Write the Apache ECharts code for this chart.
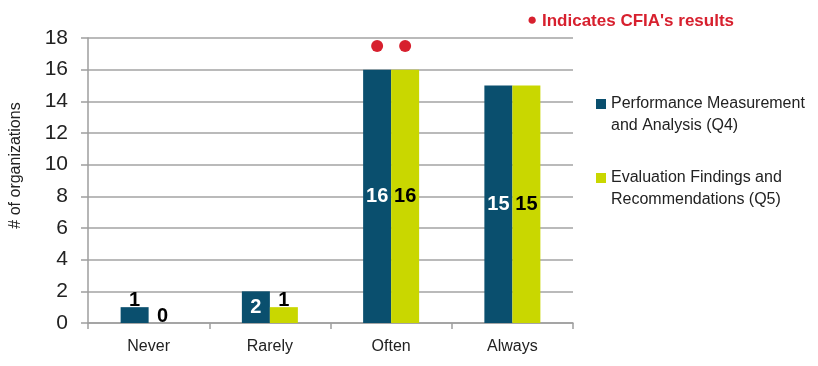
<!DOCTYPE html>
<html>
<head>
<meta charset="utf-8">
<script src="https://cdn.jsdelivr.net/npm/echarts@6/dist/echarts.min.js"></script>
<style>html,body{margin:0;padding:0;background:#fff;}#c{width:818px;height:366px;}</style>
</head>
<body>
<div id="c"></div>
<script>
var categories = ['Never', 'Rarely', 'Often', 'Always'];
var seriesNames = ['Performance Measurement and Analysis (Q4)', 'Evaluation Findings and Recommendations (Q5)'];
var legendLabels = ['Performance Measurement\nand Analysis (Q4)', 'Evaluation Findings and\nRecommendations (Q5)'];
var q4Values = [1, 2, 16, 15];
var q5Values = [0, 1, 16, 15];
var cfiaMarkerQ4 = [null, null, 17.5, null];
var cfiaMarkerQ5 = [null, null, 17.5, null];
var yTicks = {min: 0, max: 18, interval: 2};

var sans = '"Liberation Sans", Arial, sans-serif';
var teal = '#0A4F6E', lime = '#C9D700', red = '#D7202E';

function labelled(values, color) {
  return values.map(function (v) {
    var small = v <= 1;
    return {
      value: v,
      label: {
        position: small ? 'top' : 'inside',
        distance: small ? -3 : 5,
        color: small ? '#000' : color
      }
    };
  });
}

var chart = echarts.init(document.getElementById('c'), null, {renderer: 'canvas'});
chart.setOption({
  animation: false,
  backgroundColor: '#fff',
  title: {
    text: '{d|●} Indicates CFIA\'s results',
    left: 522, top: 7,
    textStyle: {
      color: red, fontFamily: sans, fontWeight: 'bold', fontSize: 17,
      rich: {d: {color: red, fontSize: 17, fontFamily: sans, padding: [0, 0, 1, 0]}}
    }
  },
  legend: {
    data: seriesNames,
    orient: 'vertical',
    left: 591, top: 66,
    itemWidth: 10, itemHeight: 10, itemGap: 8,
    icon: 'rect',
    formatter: function (n) { return '\n' + legendLabels[seriesNames.indexOf(n)]; },
    textStyle: {fontFamily: sans, fontSize: 16, color: '#222', lineHeight: 22}
  },
  grid: {left: 88, right: 245, top: 38, bottom: 43, containLabel: false},
  xAxis: {
    type: 'category',
    data: categories,
    axisLine: {lineStyle: {color: '#9E9E9E', width: 1.5}},
    axisTick: {show: true, length: 6, lineStyle: {color: '#9E9E9E', width: 1.5}},
    axisLabel: {fontFamily: sans, fontSize: 16, color: '#222', margin: 16}
  },
  yAxis: {
    type: 'value',
    min: yTicks.min, max: yTicks.max, interval: yTicks.interval,
    name: '# of organizations',
    nameLocation: 'middle',
    nameGap: 64,
    nameTextStyle: {fontFamily: sans, fontSize: 16, color: '#222', padding: [0, 0, 0, 30]},
    axisLine: {show: true, lineStyle: {color: '#9E9E9E', width: 1.5}},
    axisTick: {show: true, length: 7, lineStyle: {color: '#9E9E9E', width: 1.5}},
    axisLabel: {fontFamily: sans, fontSize: 21, color: '#222', margin: 20},
    splitLine: {lineStyle: {color: '#A3A3A3', width: 1.5}}
  },
  series: [
    {
      name: seriesNames[0], type: 'bar', data: labelled(q4Values, '#fff'),
      barWidth: 28, barGap: '0%',
      itemStyle: {color: teal},
      label: {show: true, fontFamily: sans, fontWeight: 'bold', fontSize: 20}
    },
    {
      name: seriesNames[1], type: 'bar', data: labelled(q5Values, '#000'),
      barWidth: 28, barGap: '0%',
      itemStyle: {color: lime},
      label: {show: true, fontFamily: sans, fontWeight: 'bold', fontSize: 20}
    },
    {
      type: 'scatter', data: cfiaMarkerQ4, symbol: 'circle', symbolSize: 12,
      symbolOffset: [-14, 0], itemStyle: {color: red, opacity: 1}, silent: true
    },
    {
      type: 'scatter', data: cfiaMarkerQ5, symbol: 'circle', symbolSize: 12,
      symbolOffset: [14, 0], itemStyle: {color: red, opacity: 1}, silent: true
    }
  ]
});
</script>
</body>
</html>
